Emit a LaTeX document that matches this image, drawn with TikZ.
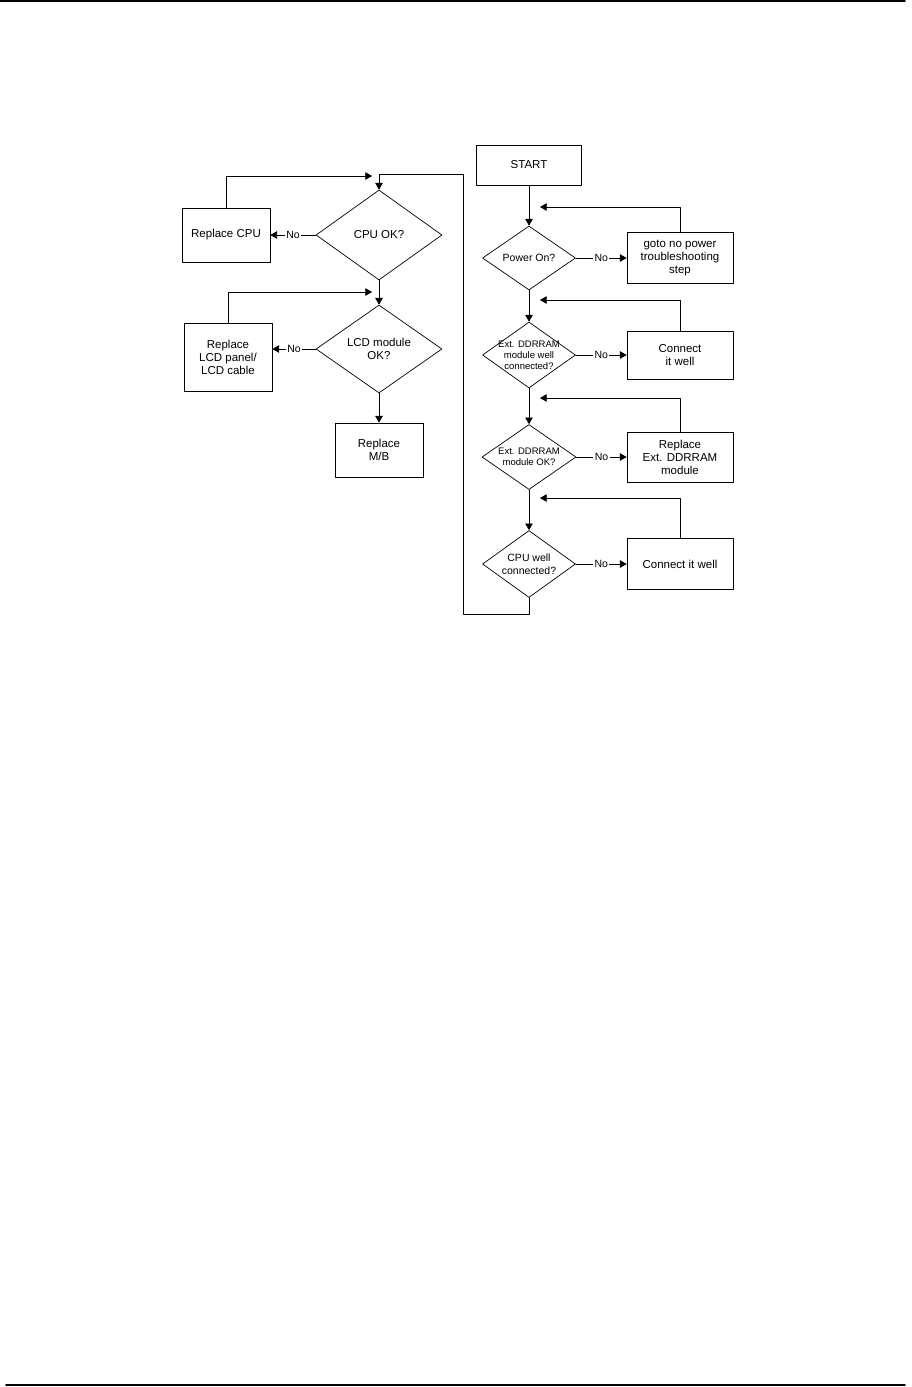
\documentclass[tikz,border=0pt]{standalone}
\usepackage{fontspec}
\setmainfont{Liberation Sans}
\usetikzlibrary{arrows,shapes.geometric}

\begin{document}
\begin{tikzpicture}[line cap=round,line join=round,>=triangle 60,x=1pt,y=-1pt,
	box/.style={draw,line width=0.8pt,inner sep=0pt,align=center,font=\fontsize{11.5}{13}\selectfont},
	query/.style={draw,diamond,line width=0.7pt,inner sep=0pt},
	qtext/.style 2 args={align=center,inner sep=0pt,font=\fontsize{#1}{#2}\selectfont},
	flow/.style={line width=0.8pt},
	nolabel/.style={fill=white,inner sep=1.5pt,font=\fontsize{10.5}{12}\selectfont}]
			\useasboundingbox (0,0) rectangle (912,1387);
			% page rules
			\draw [line width=1.6pt] (0,1)-- (905,1);
			\draw [line width=1.6pt] (6,1385)-- (905,1385);
			% right column
			\node[box,minimum width=105pt,minimum height=40pt] (start) at (529,165) {START};
			\node[query,minimum width=93pt,minimum height=64pt,label={[qtext={10.5}{12.5}]center:Power On?}] (pwr) at (529,258) {};
			\node[box,minimum width=106pt,minimum height=51pt] (gotonp) at (680,258) {goto no power\\troubleshooting\\step};
			\node[query,minimum width=93pt,minimum height=66pt,label={[qtext={9.5}{11}]center:Ext. DDRRAM\\module well\\connected?}] (extcon) at (529,355) {};
			\node[box,minimum width=106pt,minimum height=48pt] (conram) at (680,355) {Connect\\it well};
			\node[query,minimum width=94pt,minimum height=65pt,label={[qtext={9.5}{11.5}]center:Ext. DDRRAM\\module OK?}] (extok) at (529,457) {};
			\node[box,minimum width=106pt,minimum height=50pt] (replram) at (680,457) {Replace\\Ext. DDRRAM\\module};
			\node[query,minimum width=93pt,minimum height=67pt,label={[qtext={10.5}{12.5}]center:CPU well\\connected?}] (cpuwell) at (529,564) {};
			\node[box,minimum width=106pt,minimum height=51pt] (concpu) at (680,564) {Connect it well};
			% left column
			\node[query,minimum width=126pt,minimum height=90pt,label={[qtext={11.5}{13}]center:CPU OK?}] (cpuok) at (379,235) {};
			\node[box,minimum width=88pt,minimum height=54pt] (replcpu) at (226,235) {Replace CPU};
			\node[query,minimum width=126pt,minimum height=88pt,label={[qtext={11.5}{13}]center:LCD module\\OK?}] (lcdok) at (379,349) {};
			\node[box,minimum width=88pt,minimum height=68pt] (repllcd) at (228,357) {Replace\\LCD panel/\\LCD cable};
			\node[box,minimum width=88pt,minimum height=54pt] (replmb) at (379,450) {Replace\\M/B};
			% return points
			\coordinate (fbpwr) at (540,207);
			\coordinate (fbcon) at (540,300);
			\coordinate (fbext) at (540,398);
			\coordinate (fbcpu) at (540,498);
			\coordinate (fbok) at (372,176);
			\coordinate (fblcd) at (372,292);
			\coordinate (loopb) at (463,614);
			\coordinate (loopt) at (463,174);
			% main flow
			\draw [flow,->] (start.south)-- (pwr.north);
			\draw [flow,->] (pwr.south)-- (extcon.north);
			\draw [flow,->] (extcon.south)-- (extok.north);
			\draw [flow,->] (extok.south)-- (cpuwell.north);
			\draw [flow,->] (cpuwell.south) |- (loopb)-- (loopt) -| (cpuok.north);
			\draw [flow,->] (cpuok.south)-- (lcdok.north);
			\draw [flow,->] (lcdok.south)-- (replmb.north);
			% no branches
			\draw [flow,->] (pwr.east)-- node[nolabel] {No} (gotonp.west);
			\draw [flow,->] (extcon.east)-- node[nolabel] {No} (conram.west);
			\draw [flow,->] (extok.east)-- node[nolabel] {No} (replram.west);
			\draw [flow,->] (cpuwell.east)-- node[nolabel] {No} (concpu.west);
			\draw [flow,->] (cpuok.west)-- node[nolabel] {No} (replcpu.east);
			\draw [flow,->] (lcdok.west)-- node[nolabel] {No} (lcdok.west -| repllcd.east);
			% back to the flow
			\draw [flow,->] (gotonp.north) |- (fbpwr);
			\draw [flow,->] (conram.north) |- (fbcon);
			\draw [flow,->] (replram.north) |- (fbext);
			\draw [flow,->] (concpu.north) |- (fbcpu);
			\draw [flow,->] (replcpu.north) |- (fbok);
			\draw [flow,->] (repllcd.north) |- (fblcd);
		\end{tikzpicture}
\end{document}
